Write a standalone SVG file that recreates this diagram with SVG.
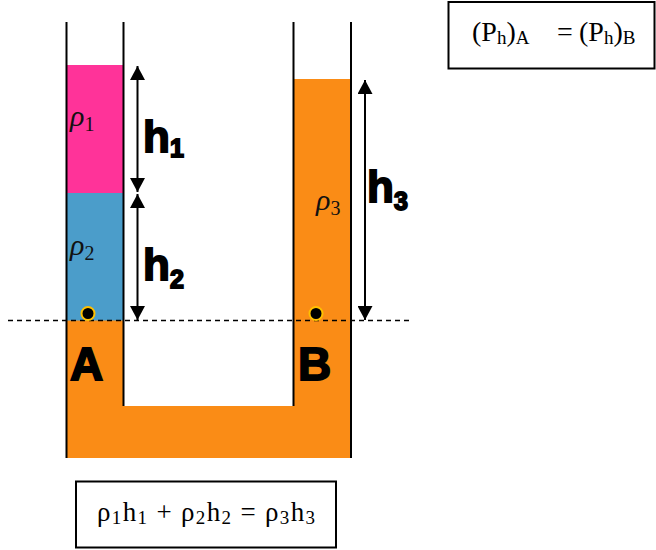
<svg xmlns="http://www.w3.org/2000/svg" width="656" height="550" viewBox="0 0 656 550">
<style>
.wall{stroke:#000;stroke-width:2;fill:none}
.dim{stroke:#000;stroke-width:2;fill:none}
.big{font-family:"Liberation Sans",Arial,sans-serif;font-weight:bold;fill:#000;stroke:#000;stroke-width:1.8}
.rho{font-family:"Liberation Serif","Times New Roman",serif;fill:#111}
.eq{font-family:"Liberation Serif","Times New Roman",serif;fill:#000}
.box{fill:#fff;stroke:#000;stroke-width:2}
.dot{fill:#000;stroke:#FFC000;stroke-width:2}
</style>
<defs>
<marker id="ah" markerUnits="userSpaceOnUse" markerWidth="15" markerHeight="15" refX="14" refY="7.5" orient="auto-start-reverse">
<path d="M0,0 L14,7.5 L0,15 Z" fill="#000"/>
</marker>
</defs>
<rect width="656" height="550" fill="#fff"/>
<g id="fluids">
<rect x="67" y="65" width="56.5" height="128" fill="#FF3399"/>
<rect x="67" y="193" width="56.5" height="128" fill="#4B9DCA"/>
<path d="M67,320.5 H123.5 V406 H293.5 V79 H350.5 V458 H67 Z" fill="#FA8C16"/>
</g>
<g id="tube">
<path class="wall" d="M66.5,22 V458"/>
<path class="wall" d="M123.5,22 V406"/>
<path class="wall" d="M293.5,22 V406"/>
<path class="wall" d="M351,22 V458"/>
</g>
<g id="level">
<path d="M8,320.5 H410" stroke="#000" stroke-width="1.5" stroke-dasharray="5,4" fill="none"/>
</g>
<g id="connectors">
<path class="dim" d="M137.5,66 V192" marker-start="url(#ah)" marker-end="url(#ah)"/>
<path class="dim" d="M137.5,194 V320" marker-start="url(#ah)" marker-end="url(#ah)"/>
<path class="dim" d="M365,80 V320" marker-start="url(#ah)" marker-end="url(#ah)"/>
</g>
<g id="pointA">
<circle class="dot" cx="88" cy="313.5" r="6.5"/>
<text class="big" x="70" y="380" font-size="46">A</text>
</g>
<g id="pointB">
<circle class="dot" cx="316" cy="313.5" r="6.5"/>
<text class="big" x="298" y="380" font-size="46">B</text>
</g>
<g id="rho1"><text class="rho" x="70" y="126" font-size="30"><tspan font-style="italic">ρ</tspan><tspan font-size="20" dy="5">1</tspan></text></g>
<g id="rho2"><text class="rho" x="70" y="255" font-size="30"><tspan font-style="italic">ρ</tspan><tspan font-size="20" dy="5">2</tspan></text></g>
<g id="rho3"><text class="rho" x="316" y="210" font-size="30"><tspan font-style="italic">ρ</tspan><tspan font-size="20" dy="5">3</tspan></text></g>
<g id="h1"><text class="big" x="143" y="152" font-size="44">h<tspan font-size="25" dy="5">1</tspan></text></g>
<g id="h2"><text class="big" x="143" y="280" font-size="44">h<tspan font-size="25" dy="8">2</tspan></text></g>
<g id="h3"><text class="big" x="367" y="202" font-size="44">h<tspan font-size="25" dy="8">3</tspan></text></g>
<g id="topbox">
<rect class="box" x="448.5" y="2" width="206" height="66.5"/>
<text class="eq" x="472" y="41" font-size="28">(P<tspan font-size="19" dy="3">h</tspan><tspan dy="-3">)</tspan><tspan font-size="19" dy="3">A</tspan><tspan x="557" dy="-3">=</tspan><tspan x="579">(P</tspan><tspan font-size="19" dy="3">h</tspan><tspan dy="-3">)</tspan><tspan font-size="19" dy="3">B</tspan></text>
</g>
<g id="bottombox">
<rect class="box" x="76" y="481.5" width="260" height="66"/>
<text class="eq" x="97" y="521" font-size="27" textLength="218" lengthAdjust="spacing">ρ<tspan font-size="19" dy="3">1</tspan><tspan dy="-3">h</tspan><tspan font-size="19" dy="3">1</tspan><tspan dy="-3"> + ρ</tspan><tspan font-size="19" dy="3">2</tspan><tspan dy="-3">h</tspan><tspan font-size="19" dy="3">2</tspan><tspan dy="-3"> = ρ</tspan><tspan font-size="19" dy="3">3</tspan><tspan dy="-3">h</tspan><tspan font-size="19" dy="3">3</tspan></text>
</g>
</svg>
